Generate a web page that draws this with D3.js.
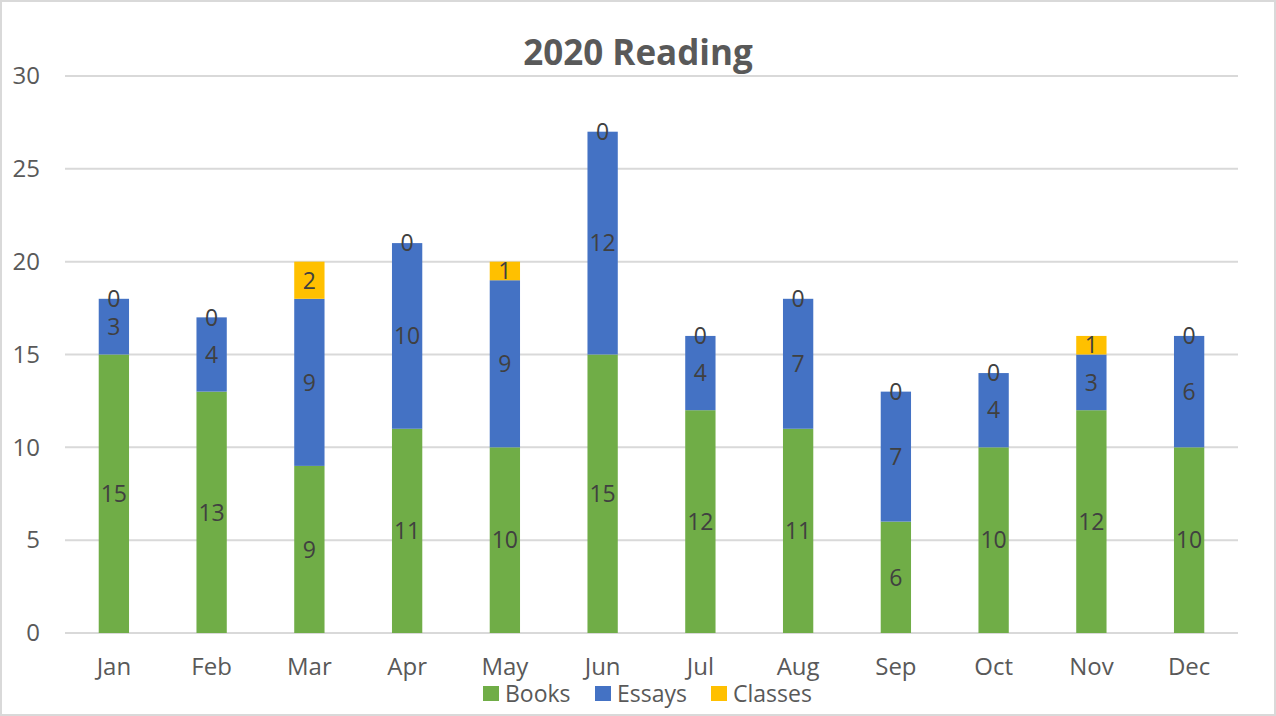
<!DOCTYPE html>
<html><head><meta charset="utf-8">
<script src="https://cdn.jsdelivr.net/npm/d3@7"></script>
<style>body{margin:0;background:#fff}svg{display:block}</style>
</head><body>
<svg id="c" width="1276" height="716"></svg>
<script>
const months = ["Jan","Feb","Mar","Apr","May","Jun","Jul","Aug","Sep","Oct","Nov","Dec"];
const seriesNames = ["Books","Essays","Classes"];
const books   = [15,13,9,11,10,15,12,11,6,10,12,10];
const essays  = [3,4,9,10,9,12,4,7,7,4,3,6];
const classes = [0,0,2,0,1,0,0,0,0,0,1,0];
const yTicks = [0,5,10,15,20,25,30];
const colors = ["#70AD47","#4472C4","#FFC000"];
const title = "2020 Reading";

const svg = d3.select("#c");
const W = 1276, H = 716;
const font = "'Open Sans', 'Noto Sans', sans-serif";
svg.append("rect").attr("x",1).attr("y",1).attr("width",W-2).attr("height",H-2)
  .attr("fill","#fff").attr("stroke","#D9D9D9").attr("stroke-width",2);

const x = d3.scaleBand().domain(months).range([65,1238]).paddingInner(0.69).paddingOuter(0.345);
const y = d3.scaleLinear().domain([0,30]).range([633,76]);

// gridlines
svg.append("g").selectAll("line").data(yTicks).join("line")
  .attr("x1",65).attr("x2",1238).attr("y1",d=>y(d)).attr("y2",d=>y(d))
  .attr("stroke","#D9D9D9").attr("stroke-width",2);

// y axis labels
const yAxis = d3.axisLeft(y).tickValues(yTicks).tickSize(0).tickPadding(0);
const gy = svg.append("g").attr("transform","translate(40,0)").call(yAxis);
gy.select(".domain").remove();
gy.selectAll("text").attr("font-family",font).attr("font-size",24).attr("fill","#595959");

// x axis labels
const xAxis = d3.axisBottom(x).tickSize(0).tickPadding(0);
const gx = svg.append("g").attr("transform","translate(0,658)").call(xAxis);
gx.select(".domain").remove();
gx.selectAll("text").attr("font-family",font).attr("font-size",24).attr("fill","#595959");

// stacked data
const rows = months.map((m,i)=>({month:m, Books:books[i], Essays:essays[i], Classes:classes[i]}));
const stack = d3.stack().keys(seriesNames)(rows);

const layers = svg.append("g").selectAll("g").data(stack).join("g")
  .attr("fill",(d,i)=>colors[i]);
layers.selectAll("rect").data(d=>d).join("rect")
  .attr("x",d=>x(d.data.month)).attr("width",x.bandwidth())
  .attr("y",d=>y(d[1])).attr("height",d=>y(d[0])-y(d[1]));

// labels
const lg = svg.append("g");
stack.forEach((layer,li)=>{
  lg.selectAll(null).data(layer).join("text")
    .attr("x",d=>x(d.data.month)+x.bandwidth()/2)
    .attr("y",d=>(y(d[0])+y(d[1]))/2)
    .attr("dy","0.36em")
    .attr("text-anchor","middle")
    .attr("font-family",font).attr("font-size",23).attr("fill","#404040")
    .text(d=>d[1]-d[0]);
});

// title
svg.append("text").attr("x",638).attr("y",65).attr("text-anchor","middle")
  .attr("font-family",font).attr("font-size",35).attr("font-weight","bold")
  .attr("fill","#595959").text(title);

// legend
const legX = [483,595,711];
const leg = svg.append("g");
seriesNames.forEach((s,i)=>{
  leg.append("rect").attr("x",legX[i]).attr("y",686).attr("width",16).attr("height",15).attr("fill",colors[i]);
  leg.append("text").attr("x",legX[i]+22).attr("y",702).attr("font-family",font).attr("font-size",23)
    .attr("fill","#595959").text(s);
});
</script>
</body></html>
